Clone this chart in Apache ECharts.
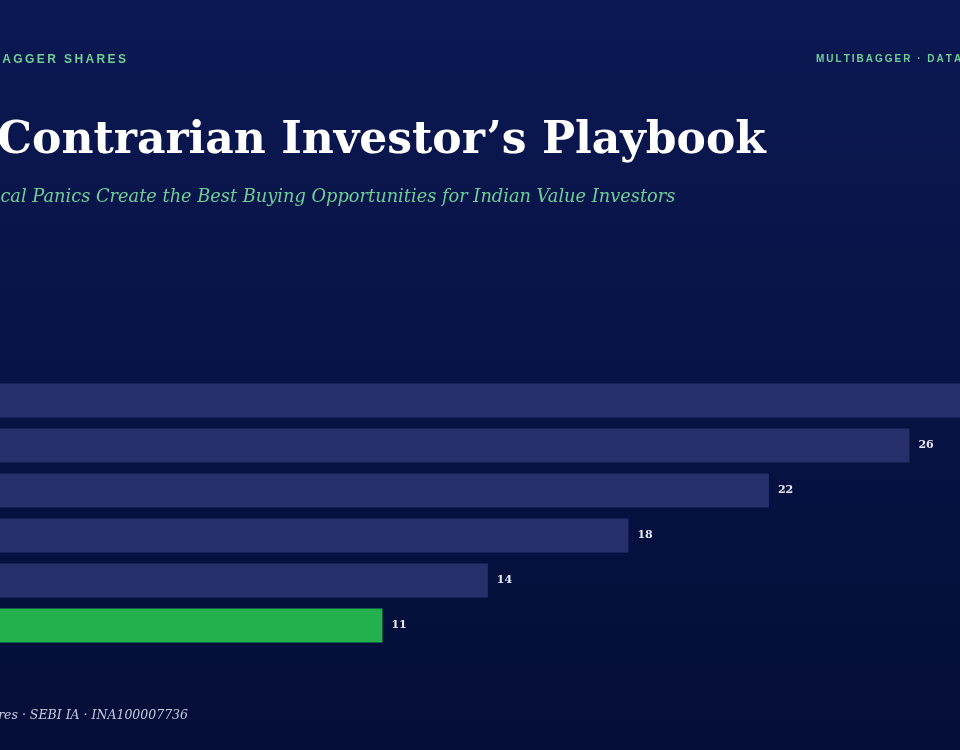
<!DOCTYPE html>
<html>
<head>
<meta charset="utf-8">
<script src="https://cdn.jsdelivr.net/npm/echarts@6/dist/echarts.min.js"></script>
<style>html,body{margin:0;padding:0;background:#07123f}#main{width:960px;height:750px}</style>
</head>
<body>
<div id="main"></div>
<script>
// data (top bar runs off the right edge, value estimated)
var categories = ['Panic 1', 'Panic 2', 'Panic 3', 'Panic 4', 'Panic 5', 'Panic 6'];
var values = [30, 26, 22, 18, 14, 11];
var highlight = 5;

function spaced(s, gap) {
    return s.split('').join(gap);
}

var myChart = echarts.init(document.getElementById('main'));
var serif = 'DejaVu Serif';
option = {
    backgroundColor: {
        type: 'linear', x: 0, y: 0, x2: 0, y2: 1,
        colorStops: [{offset: 0, color: '#0b1852'}, {offset: 1, color: '#050e38'}]
    },
    graphic: [
        {type: 'text', right: 834, top: 54, style: {text: spaced('MULTIBAGGER SHARES', '\u2009'), fill: '#6fcf97', font: 'bold 12px "Liberation Sans"'}},
        {type: 'text', left: 816, top: 54, style: {text: spaced('MULTIBAGGER', '\u2009') + '\u2009\u2009 · \u2009\u2009' + spaced('DATA', '\u2009'), fill: '#6fcf97', font: 'bold 10px "Liberation Sans"'}},
        {type: 'text', left: -111, top: 120, style: {text: 'The Contrarian Investor\u2019s Playbook', fill: '#ffffff', font: 'bold 44px "' + serif + '"'}},
        {type: 'text', left: -90, top: 188, style: {text: 'Why Cyclical Panics Create the Best Buying Opportunities for Indian Value Investors', fill: '#6fcf97', font: 'italic 17.8px "' + serif + '"'}},
        {type: 'text', right: 772, top: 709, style: {text: 'Source: Multibagger Shares · SEBI IA · INA100007736', fill: '#c7cbe0', font: 'italic 12.5px "' + serif + '"'}}
    ],
    grid: {left: -4, top: 378, width: 1054, height: 270, outerBoundsMode: 'none', containLabel: false},
    xAxis: {type: 'value', min: 0, max: 30, show: false},
    yAxis: {type: 'category', inverse: true, data: categories, show: false},
    series: [{
        type: 'bar',
        barWidth: 34,
        data: values.map(function (v, i) {
            return {value: v, itemStyle: {color: i === highlight ? '#22b14c' : '#27306b'}};
        }),
        label: {show: true, position: 'right', distance: 9, color: '#e6e8f2', fontFamily: serif, fontWeight: 'bold', fontSize: 11}
    }]
};
myChart.setOption(option);
</script>
</body>
</html>
